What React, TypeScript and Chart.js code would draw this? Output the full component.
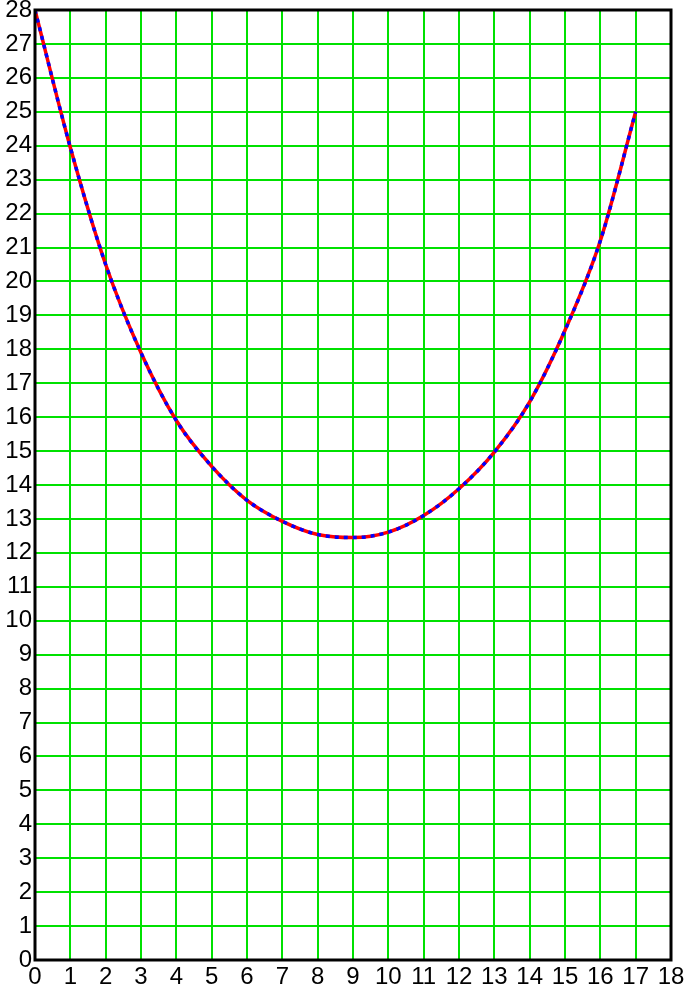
import React, { useEffect, useRef } from "react";
import { Chart, registerables } from "chart.js";

Chart.register(...registerables);

const xValues = [0, 1, 2, 3, 4, 5, 6, 7, 8, 9, 10, 11, 12, 13, 14, 15, 16, 17];
const yValues = [
  28, 23.95, 20.5, 17.9, 15.9, 14.55, 13.55, 12.93, 12.54, 12.45, 12.61, 13.1,
  13.89, 14.97, 16.45, 18.56, 21.2, 25.0,
];

const frame = {
  id: "frame",
  afterDraw(chart: Chart) {
    const { ctx, chartArea } = chart;
    ctx.save();
    ctx.strokeStyle = "#000";
    ctx.lineWidth = 3;
    ctx.strokeRect(
      chartArea.left,
      chartArea.top,
      chartArea.right - chartArea.left,
      chartArea.bottom - chartArea.top
    );
    ctx.restore();
  },
};

const App: React.FC = () => {
  const canvasRef = useRef<HTMLCanvasElement | null>(null);
  const chartRef = useRef<Chart | null>(null);

  useEffect(() => {
    document.body.style.margin = "0";
    const ctx = canvasRef.current?.getContext("2d");
    if (!ctx) return;

    const points = xValues.map((x, i) => ({ x, y: yValues[i] }));
    const tickFont = { family: "'Liberation Sans', Arial, sans-serif", size: 24 };

    chartRef.current = new Chart(ctx, {
      type: "line",
      data: {
        datasets: [
          {
            data: points,
            borderColor: "blue",
            borderWidth: 3.5,
            borderDash: [4, 5],
            pointRadius: 0,
            cubicInterpolationMode: "monotone",
          },
          {
            data: points,
            borderColor: "red",
            borderWidth: 3.5,
            pointRadius: 0,
            cubicInterpolationMode: "monotone",
          },
        ],
      },
      options: {
        animation: false,
        responsive: false,
        layout: { padding: 0 },
        plugins: { legend: { display: false }, tooltip: { enabled: false } },
        scales: {
          x: {
            type: "linear",
            min: 0,
            max: 18,
            ticks: { stepSize: 1, color: "#000", font: tickFont, padding: 3 },
            grid: { color: "rgb(0,225,0)", lineWidth: 2, drawTicks: false },
            border: { display: false },
            afterFit: (scale: any) => {
              scale.height = 39;
              scale.paddingRight = 24;
            },
          },
          y: {
            min: 0,
            max: 28,
            ticks: { stepSize: 1, color: "#000", font: tickFont, padding: 3 },
            grid: { color: "rgb(0,225,0)", lineWidth: 2, drawTicks: false },
            border: { display: false },
            afterFit: (scale: any) => {
              scale.width = 35;
              scale.paddingTop = 10;
            },
          },
        },
      },
      plugins: [frame],
    });

    return () => {
      chartRef.current?.destroy();
      chartRef.current = null;
    };
  }, []);

  return <canvas ref={canvasRef} width={695} height={999} />;
};

export default App;
